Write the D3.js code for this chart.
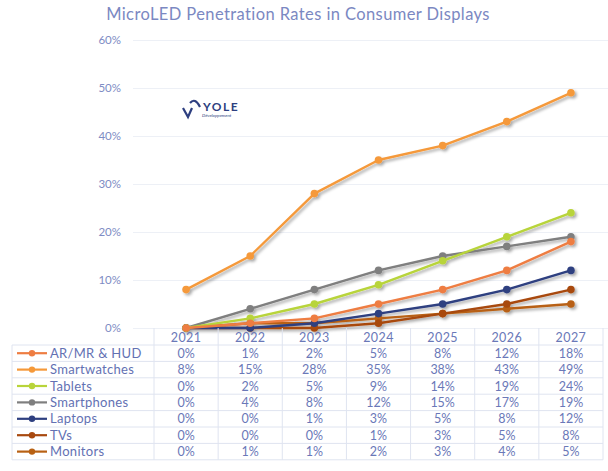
<!DOCTYPE html>
<html><head><meta charset="utf-8">
<script src="https://cdn.jsdelivr.net/npm/d3@7"></script>
<style>body{margin:0;background:#fff;}svg{display:block;font-family:Lato,"Open Sans",sans-serif;}</style>
</head><body>
<svg id="c" width="608" height="471"></svg>
<script>
const years = ["2021","2022","2023","2024","2025","2026","2027"];
const seriesNames = ["AR/MR & HUD","Smartwatches","Tablets","Smartphones","Laptops","TVs","Monitors"];
const arMrHud     = [0, 1, 2, 5, 8, 12, 18];
const smartwatches= [8, 15, 28, 35, 38, 43, 49];
const tablets     = [0, 2, 5, 9, 14, 19, 24];
const smartphones = [0, 4, 8, 12, 15, 17, 19];
const laptops     = [0, 0, 1, 3, 5, 8, 12];
const tvs         = [0, 0, 0, 1, 3, 5, 8];
const monitors    = [0, 1, 1, 2, 3, 4, 5];
const yTicks = [0, 10, 20, 30, 40, 50, 60];
const colors = ["#ee7d42","#f5993a","#b8d43a","#7f7f7f","#2e3f80","#a8490f","#b86114"];
const title = "MicroLED Penetration Rates in Consumer Displays";

const series = [arMrHud, smartwatches, tablets, smartphones, laptops, tvs, monitors]
  .map((v,i)=>({name:seriesNames[i], values:v, color:colors[i]}));

const svg = d3.select("#c");
const defs = svg.append("defs");
const f = defs.append("filter").attr("id","sh").attr("x","-20%").attr("y","-20%").attr("width","140%").attr("height","140%");
f.append("feDropShadow").attr("dx",2).attr("dy",2).attr("stdDeviation",1.4).attr("flood-color","#000").attr("flood-opacity",0.35);

const x = d3.scaleBand().domain(years).range([154, 603]);
const y = d3.scaleLinear().domain([0, 60]).range([328, 40]);
const xc = d => x(d) + x.bandwidth()/2;

// title
svg.append("text").attr("x", 298).attr("y", 20).attr("text-anchor","middle")
  .attr("font-size", 16.5).attr("fill","#7b88c2").attr("letter-spacing", 0.4).text(title);

// grid + y axis
const yAxis = d3.axisLeft(y).tickValues(yTicks).tickFormat(d => d + "%").tickSize(-(608-133)).tickPadding(12);
const gy = svg.append("g").attr("transform","translate(133,0)").call(yAxis);
gy.select(".domain").remove();
gy.selectAll(".tick line").attr("stroke","#edf0f6").attr("stroke-width",1);
gy.selectAll(".tick text").attr("fill","#7e8cc4").attr("font-size",11.5).attr("font-family","Lato,sans-serif");

// logo
const logo = svg.append("g").attr("transform","translate(183,99)");
logo.append("path").attr("d","M0,9 L5,18 L9,9 M7,4 Q12,-2 17,8").attr("fill","none").attr("stroke","#2e3f80").attr("stroke-width",2.2);
logo.append("text").attr("x",20).attr("y",12).attr("font-size",12).attr("font-weight",700).attr("letter-spacing",1.5).attr("fill","#2e3f80").text("YOLE");
logo.append("text").attr("x",19).attr("y",18).attr("font-size",4.5).attr("font-style","italic").attr("fill","#2e3f80").text("Développement");

// lines
const line = d3.line().x((d,i)=>xc(years[i])).y(d=>y(d));
const gl = svg.append("g").attr("filter","url(#sh)");
series.slice().reverse().forEach(s => {
  const g = gl.append("g");
  g.append("path").attr("d", line(s.values)).attr("fill","none").attr("stroke", s.color).attr("stroke-width",2.4).attr("stroke-linejoin","round");
  g.selectAll("circle").data(s.values).join("circle")
    .attr("cx",(d,i)=>xc(years[i])).attr("cy",d=>y(d)).attr("r",3.8).attr("fill",s.color);
});

// table
const rowTop = 345, rowH = 16.4;
const tg = svg.append("g");
const gridC = "#dfe4f0";
x.domain().forEach(d => {
  tg.append("line").attr("x1",x(d)).attr("x2",x(d)).attr("y1",328).attr("y2",rowTop+rowH*7).attr("stroke",gridC);
});
tg.append("line").attr("x1",603).attr("x2",603).attr("y1",328).attr("y2",rowTop+rowH*7).attr("stroke",gridC);
tg.append("line").attr("x1",12).attr("x2",12).attr("y1",rowTop).attr("y2",rowTop+rowH*7).attr("stroke",gridC);
for (let r=0;r<=7;r++){
  tg.append("line").attr("x1",12).attr("x2",603).attr("y1",rowTop+rowH*r).attr("y2",rowTop+rowH*r).attr("stroke",gridC);
}
tg.selectAll("text.yr").data(years).join("text").attr("class","yr")
  .attr("x",d=>xc(d)).attr("y",rowTop-3).attr("text-anchor","middle")
  .attr("font-size",12.5).attr("letter-spacing",0.4).attr("fill","#6a78b8").text(d=>d);
series.forEach((s,r) => {
  const cy = rowTop + rowH*r + rowH/2;
  tg.append("line").attr("x1",17).attr("x2",47).attr("y1",cy).attr("y2",cy).attr("stroke",s.color).attr("stroke-width",2.2);
  tg.append("circle").attr("cx",32).attr("cy",cy).attr("r",3.2).attr("fill",s.color);
  tg.append("text").attr("x",50).attr("y",cy+4.5).attr("font-size",13).attr("letter-spacing",0.3).attr("fill","#6371b3").text(s.name);
  s.values.forEach((v,i) => {
    tg.append("text").attr("x",xc(years[i])).attr("y",cy+4.5).attr("text-anchor","middle")
      .attr("font-size",12.5).attr("fill","#6a78b8").text(v + "%");
  });
});
</script>
</body></html>
